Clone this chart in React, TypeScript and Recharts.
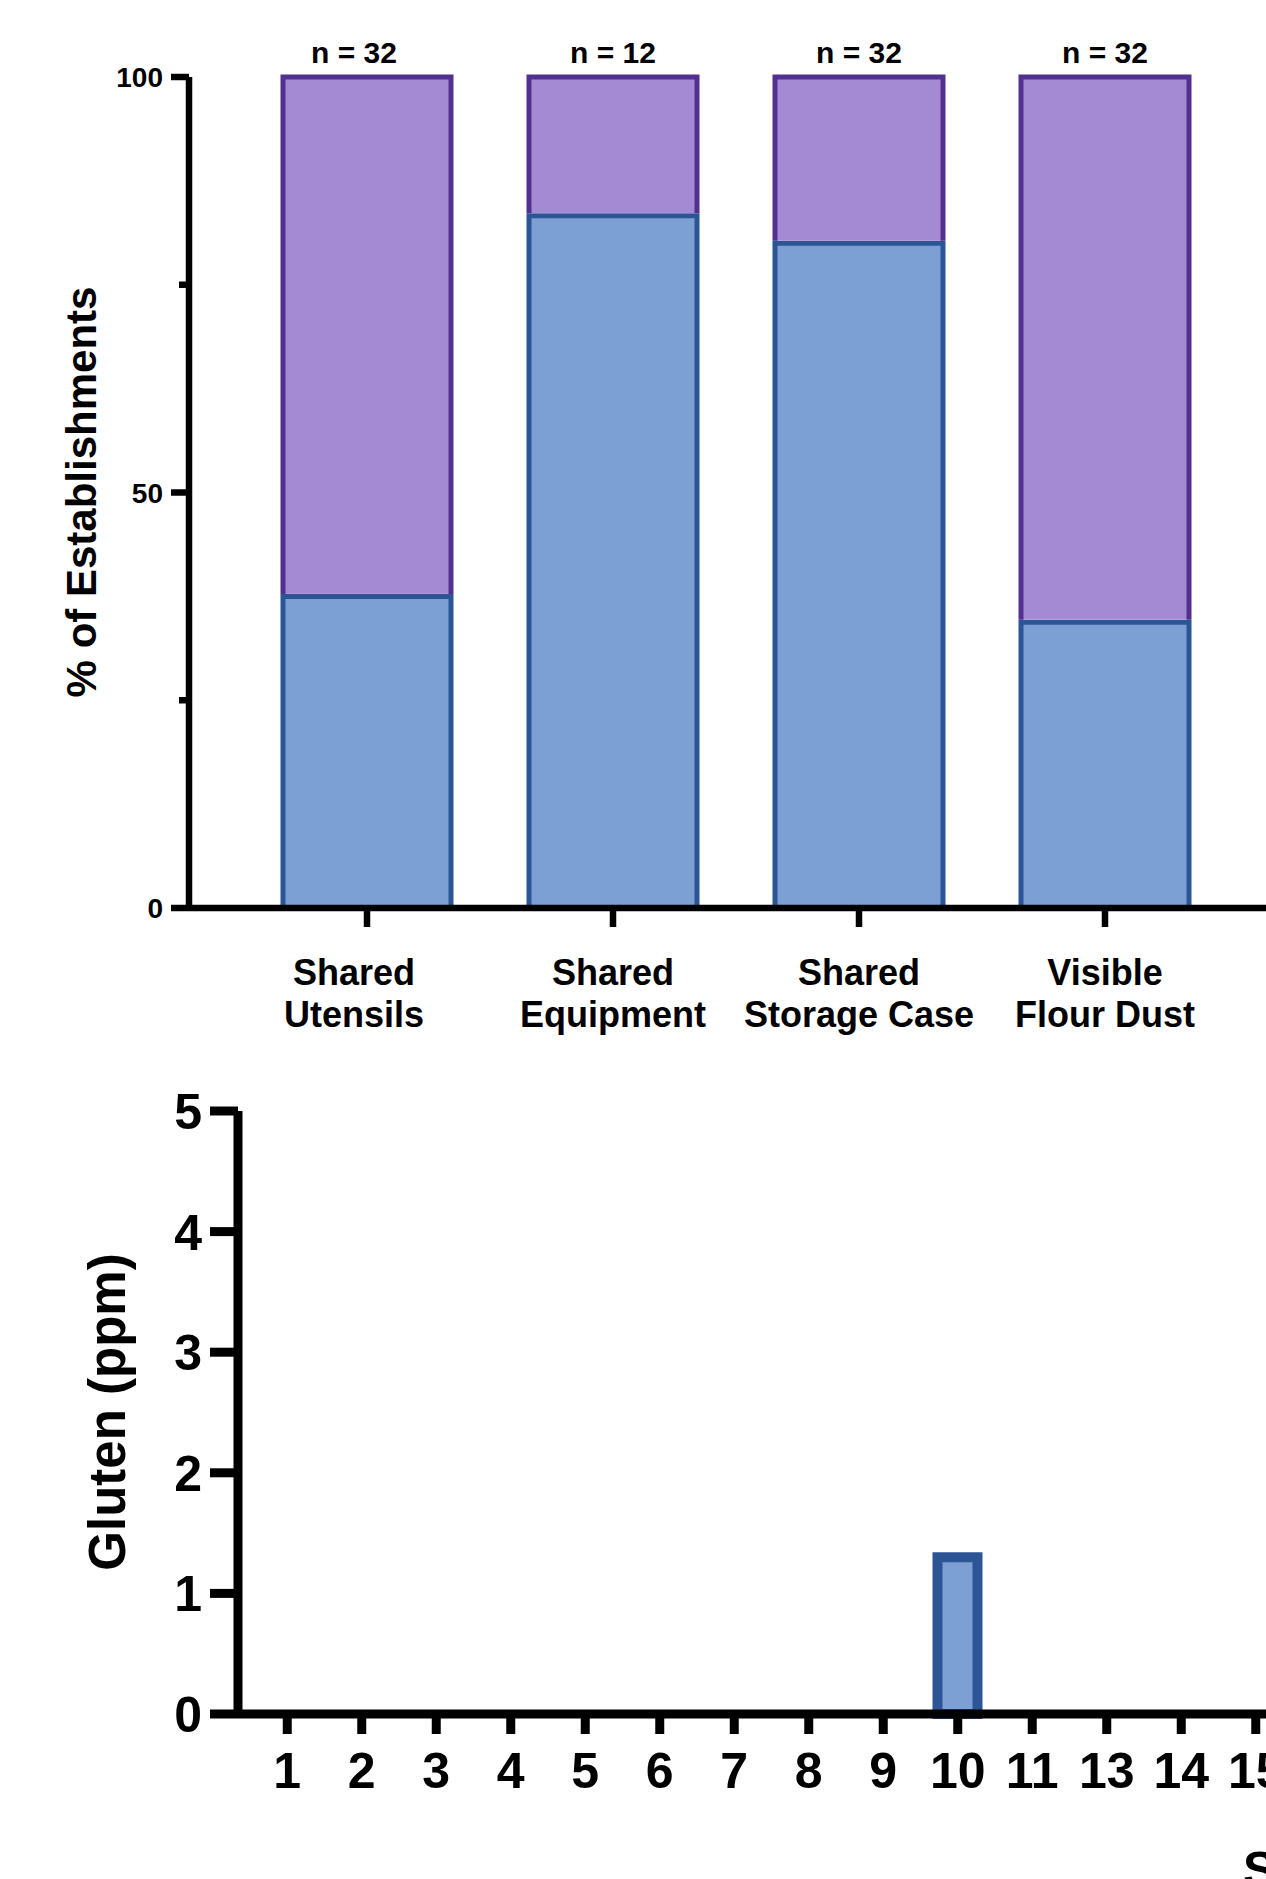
import { Bar, BarChart, Label, LabelList, XAxis, YAxis } from 'recharts'

const categories = ['Shared\nUtensils', 'Shared\nEquipment', 'Shared\nStorage Case', 'Visible\nFlour Dust']
const blueValues = [37.5, 83.3, 80, 34.4]
const purpleValues = [62.5, 16.7, 20, 65.6]
const sampleSizes = ['n = 32', 'n = 12', 'n = 32', 'n = 32']
const percentTicks = [0, 25, 50, 75, 100]
const percentLabels = [0, 50, 100]

const samples = ['1', '2', '3', '4', '5', '6', '7', '8', '9', '10', '11', '13', '14', '15']
const glutenValues = [0, 0, 0, 0, 0, 0, 0, 0, 0, 1.3, 0, 0, 0, 0]
const glutenTicks = [0, 1, 2, 3, 4, 5]

const FONT = "'Liberation Sans', Arial, Helvetica, sans-serif"
const BLUE_FILL = '#7DA0D4'
const BLUE_STROKE = '#2C5596'
const PURPLE_FILL = '#A48AD3'
const PURPLE_STROKE = '#52308F'

const topData = categories.map((category, i) => ({
  category,
  blue: blueValues[i],
  purple: purpleValues[i],
  n: sampleSizes[i],
}))

const glutenData = samples.map((sample, i) => ({ sample, gluten: glutenValues[i] }))

// top chart geometry
const TOP_AXIS_X = 189
const TOP_LINE = 6.5
// in the original the first column's texts sit a little left of the bar centre
const FIRST_NUDGE = -13
// bottom chart geometry
const BOT_AXIS_X = 238
const BOT_LINE = 9

function AxisTitle({ cx, cy, text, size }: any) {
  return (
    <text
      x={cx}
      y={cy}
      transform={`rotate(-90 ${cx} ${cy})`}
      textAnchor="middle"
      fontFamily={FONT}
      fontWeight="bold"
      fontSize={size}
      fill="#000"
    >
      {text}
    </text>
  )
}

function PercentTick(props: any) {
  const { payload } = props
  const y = payload.coordinate
  const major = percentLabels.includes(payload.value)
  return (
    <g>
      <line x1={TOP_AXIS_X - (major ? 18 : 10)} x2={TOP_AXIS_X} y1={y} y2={y} stroke="#000" strokeWidth={TOP_LINE} />
      {major && (
        <text x={TOP_AXIS_X - 26} y={y + 10} textAnchor="end" fontFamily={FONT} fontWeight="bold" fontSize={28} fill="#000">
          {payload.value}
        </text>
      )}
    </g>
  )
}

function CategoryTick(props: any) {
  const { payload, index } = props
  const x = payload.coordinate
  const tx = x + (index === 0 ? FIRST_NUDGE : 0)
  const axisY = 908
  const lines = String(payload.value).split('\n')
  return (
    <g>
      <line x1={x} x2={x} y1={axisY} y2={axisY + 19} stroke="#000" strokeWidth={TOP_LINE} />
      <text x={tx} y={axisY + 77} textAnchor="middle" fontFamily={FONT} fontWeight="bold" fontSize={36} fill="#000">
        {lines.map((line, i) => (
          <tspan key={i} x={tx} dy={i === 0 ? 0 : 42}>
            {line}
          </tspan>
        ))}
      </text>
    </g>
  )
}

function PurpleShape({ x, y, width, height }: any) {
  const sw = 5
  const h = height - sw / 2
  return (
    <g>
      <rect x={x} y={y} width={width} height={h} fill={PURPLE_FILL} />
      <path
        d={`M${x},${y + h} L${x},${y} L${x + width},${y} L${x + width},${y + h}`}
        fill="none"
        stroke={PURPLE_STROKE}
        strokeWidth={sw}
      />
    </g>
  )
}

function SizeLabel({ x, y, width, value, index }: any) {
  const cx = x + width / 2 + (index === 0 ? FIRST_NUDGE : 0)
  return (
    <text x={cx} y={y - 14} textAnchor="middle" fontFamily={FONT} fontWeight="bold" fontSize={30} fill="#000">
      {value}
    </text>
  )
}

function GlutenTick(props: any) {
  const { payload } = props
  const y = payload.coordinate
  return (
    <g>
      <line x1={BOT_AXIS_X - 28} x2={BOT_AXIS_X} y1={y} y2={y} stroke="#000" strokeWidth={BOT_LINE} />
      <text x={BOT_AXIS_X - 36} y={y + 18} textAnchor="end" fontFamily={FONT} fontWeight="bold" fontSize={50} fill="#000">
        {payload.value}
      </text>
    </g>
  )
}

function SampleTick(props: any) {
  const { payload } = props
  const x = payload.coordinate
  const axisY = 674
  return (
    <g>
      <line x1={x} x2={x} y1={axisY} y2={axisY + 20} stroke="#000" strokeWidth={BOT_LINE} />
      <text x={x} y={axisY + 74} textAnchor="middle" fontFamily={FONT} fontWeight="bold" fontSize={50} fill="#000">
        {payload.value}
      </text>
    </g>
  )
}

export default function App() {
  return (
    <div
      style={{
        position: 'absolute',
        left: 0,
        top: 0,
        width: 1266,
        height: 1879,
        overflow: 'hidden',
        background: '#fff',
        fontFamily: FONT,
      }}
    >
      <div style={{ position: 'absolute', left: 0, top: 0 }}>
        <BarChart width={1266} height={1060} data={topData} margin={{ top: 77, right: 0, bottom: 0, left: 0 }}>
          <Bar dataKey="blue" stackId="a" fill={BLUE_FILL} stroke={BLUE_STROKE} strokeWidth={5} barSize={168} isAnimationActive={false} />
          <Bar dataKey="purple" stackId="a" shape={<PurpleShape />} barSize={168} isAnimationActive={false}>
            <LabelList dataKey="n" content={<SizeLabel />} />
          </Bar>
          <XAxis
            dataKey="category"
            height={152}
            padding={{ left: 55, right: 38 }}
            interval={0}
            tickLine={false}
            axisLine={{ stroke: '#000', strokeWidth: TOP_LINE }}
            tick={(p: any) => <CategoryTick {...p} />}
          />
          <YAxis
            width={TOP_AXIS_X}
            type="number"
            domain={[0, 100]}
            ticks={percentTicks}
            interval={0}
            tickLine={false}
            axisLine={{ stroke: '#000', strokeWidth: TOP_LINE }}
            tick={(p: any) => <PercentTick {...p} />}
          >
            <Label content={<AxisTitle cx={96} cy={492} text="% of Establishments" size={42} />} />
          </YAxis>
        </BarChart>
      </div>

      <div style={{ position: 'absolute', left: 0, top: 1040 }}>
        <BarChart width={1300} height={839} data={glutenData} margin={{ top: 71, right: 0, bottom: 0, left: 0 }}>
          <Bar dataKey="gluten" fill={BLUE_FILL} stroke={BLUE_STROKE} strokeWidth={10} barSize={40} isAnimationActive={false} />
          <XAxis
            dataKey="sample"
            height={165}
            padding={{ left: 12, right: 7 }}
            interval={0}
            tickLine={false}
            axisLine={{ stroke: '#000', strokeWidth: BOT_LINE }}
            tick={(p: any) => <SampleTick {...p} />}
          />
          <YAxis
            width={BOT_AXIS_X}
            type="number"
            domain={[0, 5]}
            ticks={glutenTicks}
            interval={0}
            tickLine={false}
            axisLine={{ stroke: '#000', strokeWidth: BOT_LINE }}
            tick={(p: any) => <GlutenTick {...p} />}
          >
            <Label content={<AxisTitle cx={125} cy={372} text="Gluten (ppm)" size={51} />} />
          </YAxis>
        </BarChart>
      </div>

      <div
        style={{
          position: 'absolute',
          left: 1243,
          top: 1845,
          fontSize: 50,
          lineHeight: '50px',
          fontWeight: 'bold',
          whiteSpace: 'nowrap',
          color: '#000',
        }}
      >
        Sample
      </div>
    </div>
  )
}
